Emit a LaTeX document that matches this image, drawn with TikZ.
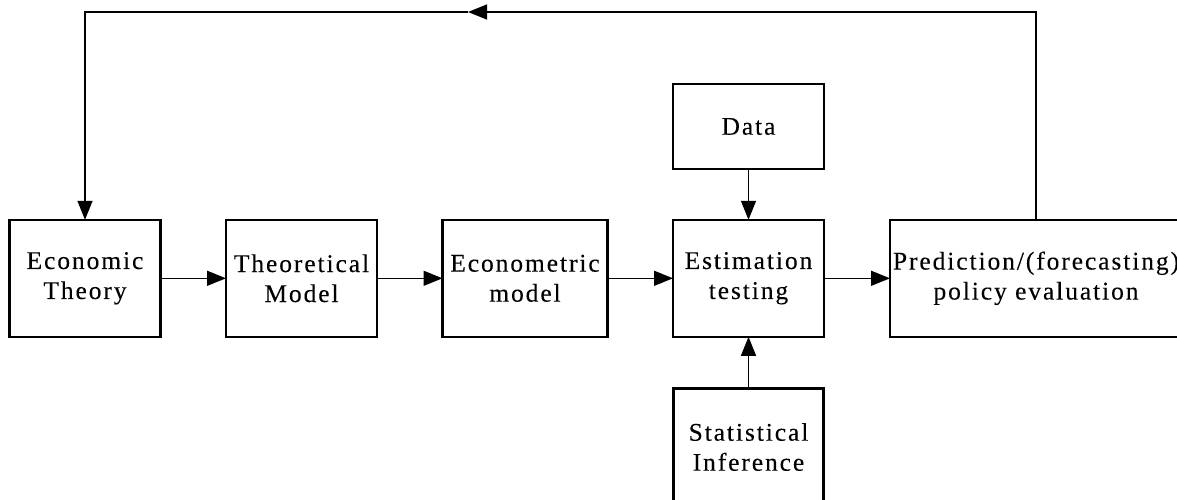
\documentclass[tikz,border=0pt]{standalone}
\usepackage{fontspec}
\setmainfont{Liberation Serif}[LetterSpace=7.5,FakeBold=0.15]
\usetikzlibrary{arrows.meta}
\tikzset{
  box/.style={draw=black, line width=2.2pt, inner sep=0pt, outer sep=0pt, align=center,
    font=\fontsize{25.5}{30}\selectfont},
  arr/.style={draw=black, line width=1.4pt, -{Triangle[length=19pt,width=15pt]}}
}
\begin{document}
\begin{tikzpicture}[x=1pt,y=-1pt]
\useasboundingbox (0,0) rectangle (1177,500);
\clip (0,0) rectangle (1177,500);
\node[box, minimum width=151pt, minimum height=117pt] (econ) at (85,278.3) {Economic\\Theory};
\node[box, minimum width=151pt, minimum height=117pt] (theo) at (301.5,278.3) {Theoretical\\Model};
\node[box, minimum width=165pt, minimum height=117pt] (ecm) at (525,278.3) {Econometric\\model};
\node[box, minimum width=151pt, minimum height=117pt] (est) at (748.5,278.3) {Estimation\\testing};
\node[box, minimum width=292pt, minimum height=117pt] (pred) at (1036,278.3) {Prediction/(forecasting)\\policy evaluation};
\node[box, minimum width=151pt, minimum height=85pt] (data) at (748.5,126.5) {Data};
\node[box, minimum width=150pt, minimum height=117pt] (stat) at (748.5,447) {Statistical\\Inference};
\draw[arr] (econ.east) -- (theo.west);
\draw[arr] (theo.east) -- (ecm.west);
\draw[arr] (ecm.east) -- (est.west);
\draw[arr] (est.east) -- (pred.west);
\draw[arr] (data.south) -- (est.north);
\draw[arr] (stat.north) -- (est.south);
\coordinate (tr) at (1036,12);
\coordinate (mid) at (468,12);
\coordinate (tl) at (85,12);
\draw[arr] (pred.north) -- (tr) -- (mid);
\draw[arr] (mid) -- (tl) -- (econ.north);
\end{tikzpicture}
\end{document}
